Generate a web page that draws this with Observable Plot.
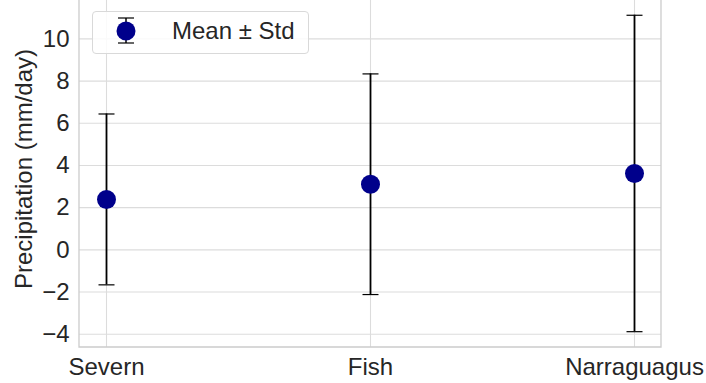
<!DOCTYPE html>
<html>
<head>
<meta charset="utf-8">
<script src="https://cdn.jsdelivr.net/npm/d3@7"></script>
<script src="https://cdn.jsdelivr.net/npm/@observablehq/plot@0.6"></script>
<style>
  html, body { margin: 0; padding: 0; background: #fff; }
  #wrap { position: relative; width: 706px; height: 383px; overflow: hidden; font-family: "Liberation Sans", Arial, sans-serif; }
  #legend { position: absolute; left: 92px; top: 11px; width: 215px; height: 41px; border: 1px solid #d9d9d9; border-radius: 4px; background: rgba(255,255,255,0.85); }
  #legend svg { position: absolute; left: 0; top: 0; }
  #legend span { position: absolute; left: 79px; top: 5px; font-size: 24px; line-height: 28px; color: #262626; white-space: nowrap; }
</style>
</head>
<body>
<div id="wrap">
  <div id="chart"></div>
  <div id="legend">
    <svg width="60" height="41">
      <line x1="33" x2="33" y1="6" y2="31" stroke="#000" stroke-width="1.5"/>
      <line x1="25" x2="41" y1="6" y2="6" stroke="#000" stroke-width="1.2"/>
      <line x1="25" x2="41" y1="31" y2="31" stroke="#000" stroke-width="1.2"/>
      <circle cx="33" cy="19" r="9.5" fill="#00008b"/>
    </svg>
    <span>Mean ± Std</span>
  </div>
</div>
<script>
const rivers = ["Severn", "Fish", "Narraguagus"];
const means = [2.39, 3.11, 3.62];
const stds = [4.05, 5.23, 7.5];
const yTicks = [-4, -2, 0, 2, 4, 6, 8, 10];
const yLabel = "Precipitation (mm/day)";

const data = rivers.map((r, i) => ({river: r, mean: means[i], lo: means[i] - stds[i], hi: means[i] + stds[i]}));
const capSymbol = { draw(ctx) { ctx.moveTo(-8, 0); ctx.lineTo(8, 0); } };
const textColor = "#262626";
const fs = 24;

const spines = (index, scales, values, dim) => {
  const g = d3.create("svg:g");
  const L = dim.marginLeft, R = dim.width - dim.marginRight, B = dim.height - dim.marginBottom, T = dim.marginTop;
  g.append("path")
    .attr("d", `M${L},${T}V${B}H${R}V${T}`)
    .attr("fill", "none").attr("stroke", "#cccccc").attr("stroke-width", 1.3);
  return g.node();
};

const chart = Plot.plot({
  width: 706,
  height: 383,
  marginLeft: 79,
  marginRight: 45,
  marginTop: 0,
  marginBottom: 36,
  style: { fontFamily: "'Liberation Sans', Arial, sans-serif", fontSize: fs + "px", color: textColor, background: "#fff", overflow: "visible" },
  x: { type: "point", domain: rivers, padding: 0.1, label: null },
  y: { domain: [-4.63, 11.82], ticks: yTicks, label: null },
  marks: [
    Plot.gridY(yTicks, { stroke: "#dcdcdc", strokeOpacity: 1, strokeWidth: 1.1 }),
    Plot.gridX(rivers, { stroke: "#dcdcdc", strokeOpacity: 1, strokeWidth: 1.1 }),
    spines,
    Plot.axisY(yTicks, { tickSize: 0, tickPadding: 10, fontSize: fs, fill: textColor,
      tickFormat: d => (d < 0 ? "\u2212" + Math.abs(d) : String(d)), label: null }),
    Plot.axisX(rivers, { tickSize: 0, tickPadding: 10, fontSize: fs, fill: textColor, label: null }),
    Plot.text([yLabel], { frameAnchor: "left", dx: -55, dy: -5, rotate: -90, textAnchor: "middle", fontSize: fs, fill: textColor }),
    Plot.ruleX(data, { x: "river", y1: "lo", y2: "hi", stroke: "#000", strokeWidth: 1.8 }),
    Plot.dot(data, { x: "river", y: "lo", symbol: capSymbol, stroke: "#000", strokeWidth: 1.2, fill: "none" }),
    Plot.dot(data, { x: "river", y: "hi", symbol: capSymbol, stroke: "#000", strokeWidth: 1.2, fill: "none" }),
    Plot.dot(data, { x: "river", y: "mean", r: 9.5, fill: "#00008b", stroke: "none" })
  ]
});
document.getElementById("chart").appendChild(chart);
</script>
</body>
</html>
